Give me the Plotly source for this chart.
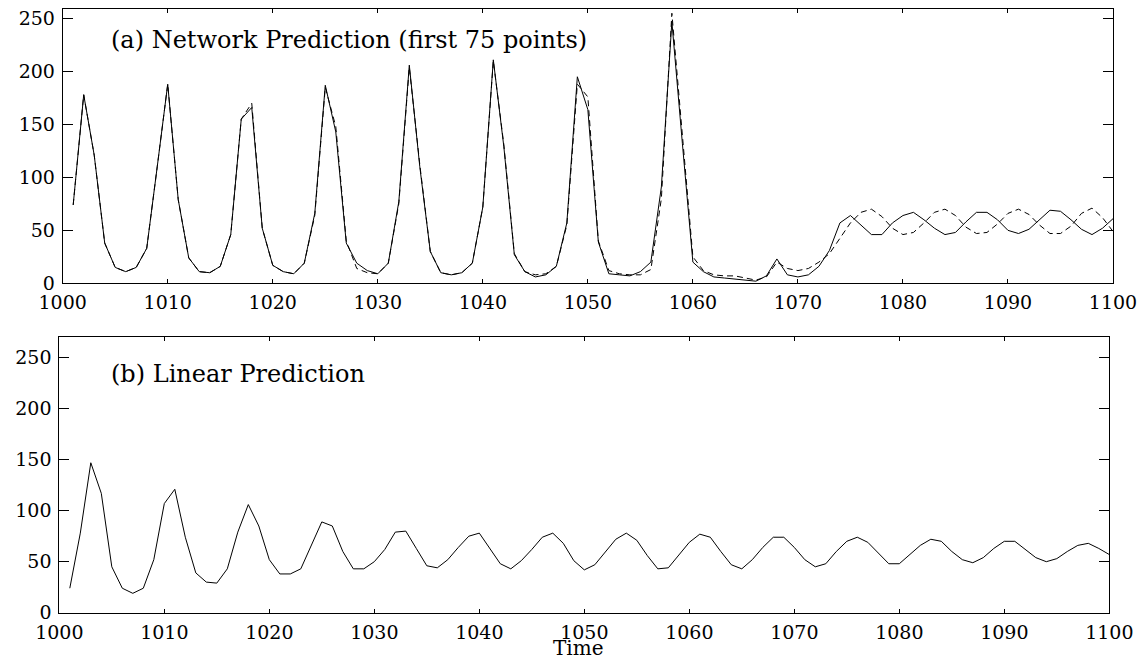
import plotly.graph_objects as go

time = list(range(1001, 1101))

# (a) network prediction panel: solid and dashed series
net_solid = [74, 178, 121, 38, 15, 11, 15, 33, 110, 188,
             79, 24, 11, 10, 16, 46, 155, 166, 52, 17,
             11, 9, 19, 66, 187, 143, 38, 19, 12, 9,
             19, 77, 206, 110, 30, 10, 8, 10, 19, 72,
             211, 129, 27, 11, 6, 8, 16, 57, 195, 164,
             39, 9, 8, 7, 11, 20, 91, 247, 132, 20,
             11, 6, 5, 4, 3, 2, 7, 23, 8, 6,
             8, 16, 31, 57, 64, 55, 46, 46, 57, 64,
             67, 60, 52, 46, 48, 58, 67, 67, 60, 50,
             47, 51, 60, 69, 68, 60, 51, 46, 52, 61]

net_dashed = [74, 178, 121, 38, 15, 11, 15, 33, 110, 188,
              79, 24, 11, 10, 16, 46, 155, 170, 52, 17,
              11, 9, 19, 64, 185, 148, 40, 14, 10, 9,
              19, 75, 204, 112, 30, 10, 8, 10, 19, 72,
              210, 131, 28, 11, 8, 9, 16, 55, 188, 176,
              40, 12, 9, 8, 8, 13, 80, 255, 140, 25,
              12, 8, 7, 7, 5, 3, 6, 20, 14, 12,
              14, 20, 28, 42, 57, 67, 70, 63, 52, 46,
              48, 57, 67, 70, 64, 53, 47, 48, 56, 66,
              70, 65, 55, 47, 47, 54, 66, 71, 62, 49]

# (b) linear prediction panel
linear_pred = [24, 78, 147, 117, 45, 24, 19, 24, 52, 107,
               121, 74, 39, 30, 29, 43, 79, 106, 85, 52,
               38, 38, 43, 66, 89, 85, 60, 43, 43, 50,
               62, 79, 80, 63, 46, 44, 52, 64, 75, 78,
               63, 48, 43, 51, 62, 74, 78, 68, 51, 42,
               47, 60, 72, 78, 71, 56, 43, 44, 57, 69,
               77, 74, 60, 47, 43, 52, 64, 74, 74, 64,
               52, 45, 48, 60, 70, 74, 69, 58, 48, 48,
               57, 66, 72, 70, 60, 52, 49, 54, 63, 70,
               70, 62, 54, 50, 53, 60, 66, 68, 63, 57]

x_ticks = list(range(1000, 1101, 10))
y_ticks = [0, 50, 100, 150, 200, 250]

# the page body adds an 8px margin, so the figure is sized to fit the window
OFF = 8
W, H = 1146 - OFF, 665 - OFF


def px(xp):
    return (xp - OFF) / W


def py(yp):
    return (H - (yp - OFF)) / H


fig = go.Figure()

fig.add_trace(go.Scatter(x=time, y=net_dashed, mode="lines",
                         line=dict(color="black", width=1, dash="6px,4px"),
                         xaxis="x", yaxis="y", showlegend=False))
fig.add_trace(go.Scatter(x=time, y=net_solid, mode="lines",
                         line=dict(color="black", width=1),
                         xaxis="x", yaxis="y", showlegend=False))
fig.add_trace(go.Scatter(x=time, y=linear_pred, mode="lines",
                         line=dict(color="black", width=1),
                         xaxis="x2", yaxis="y2", showlegend=False))

tick_font = dict(family="DejaVu Serif", size=19, color="black")

xcommon = dict(range=[1000, 1100], tickvals=x_ticks, ticks="inside", ticklen=4,
               tickcolor="black", showline=True, linecolor="black", linewidth=1,
               mirror="ticks", showgrid=False, zeroline=False, tickfont=tick_font,
               automargin=False, ticklabelstandoff=2, ticklabeloverflow="allow")
ycommon = dict(tickvals=y_ticks, ticks="inside", ticklen=10, tickcolor="black",
               showline=True, linecolor="black", linewidth=1, mirror="ticks",
               showgrid=False, zeroline=False, tickfont=tick_font,
               automargin=False, ticklabelstandoff=3, ticklabeloverflow="allow")

fig.update_layout(
    width=W, height=H,
    margin=dict(l=0, r=0, t=0, b=0),
    paper_bgcolor="white", plot_bgcolor="white",
    xaxis=dict(domain=[px(62.7), px(1113)], anchor="y", **xcommon),
    yaxis=dict(domain=[py(283.3), py(9)], range=[0, 259], anchor="x", **ycommon),
    xaxis2=dict(domain=[px(59.3), px(1109.3)], anchor="y2", **xcommon),
    yaxis2=dict(domain=[py(612.7), py(337.3)], range=[0, 270], anchor="x2", **ycommon),
    annotations=[
        dict(text="(a) Network Prediction (first 75 points)", xref="paper", yref="paper",
             x=px(109), y=py(40), xanchor="left", yanchor="middle", showarrow=False,
             font=dict(family="DejaVu Serif", size=24, color="black")),
        dict(text="(b) Linear Prediction", xref="paper", yref="paper",
             x=px(109), y=py(374), xanchor="left", yanchor="middle", showarrow=False,
             font=dict(family="DejaVu Serif", size=24, color="black")),
        dict(text="Time", xref="paper", yref="paper",
             x=px(578), y=py(648), xanchor="center", yanchor="middle", showarrow=False,
             font=dict(family="DejaVu Serif", size=20, color="black")),
    ],
)

fig.write_html("out.html")
